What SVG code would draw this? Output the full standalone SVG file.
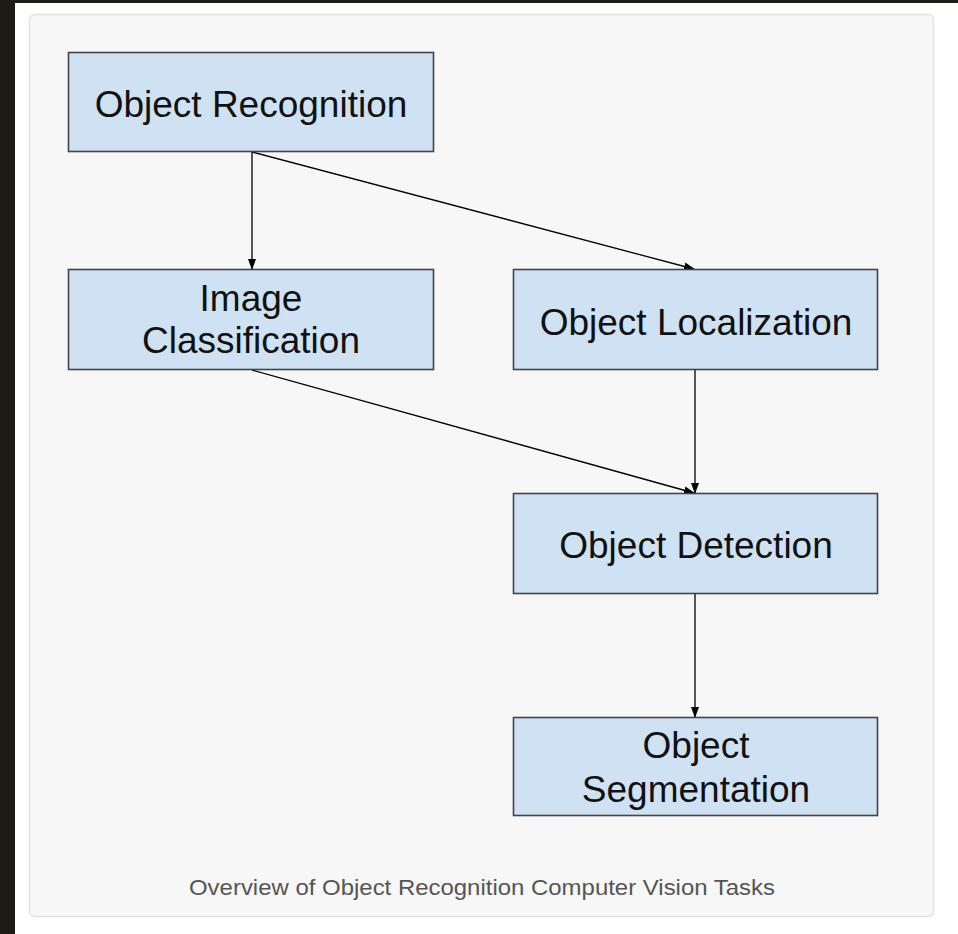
<svg xmlns="http://www.w3.org/2000/svg" width="958" height="934" viewBox="0 0 958 934">
<defs>
<marker id="ah" markerWidth="11" markerHeight="10" refX="10" refY="5" orient="auto" markerUnits="userSpaceOnUse">
<path d="M0,1 L11,5 L0,9 Z" fill="#000"/>
</marker>
<style>
.box{fill:#cfe2f3;stroke:#444;stroke-width:1.6}
.lbl{font-family:"Liberation Sans",Arial,sans-serif;font-size:37px;fill:#111;text-anchor:middle}
.edge{stroke:#000;stroke-width:1.3;fill:none;marker-end:url(#ah)}
.cap{font-family:"Liberation Sans",Arial,sans-serif;font-size:22px;fill:#555;text-anchor:middle}
</style>
</defs>
<rect x="0" y="0" width="958" height="934" fill="#fff"/>
<rect x="0" y="0" width="958" height="3" fill="#1c1b14"/>
<rect x="0" y="0" width="15" height="934" fill="#1c1b14"/>
<rect x="29.5" y="14.5" width="904" height="902" rx="5" fill="#f7f7f7" stroke="#e2e2e2" stroke-width="1.5"/>
<g id="connectors">
<line class="edge" x1="252" y1="152" x2="694" y2="269"/>
<line class="edge" x1="252" y1="152" x2="252" y2="269"/>
<line class="edge" x1="252" y1="370" x2="694" y2="493"/>
<line class="edge" x1="695" y1="370" x2="695" y2="493"/>
<line class="edge" x1="695" y1="594" x2="695" y2="717"/>
</g>
<g id="object-recognition">
<rect class="box" x="68.5" y="52.5" width="365" height="99"/>
<text class="lbl" x="251" y="117">Object Recognition</text>
</g>
<g id="image-classification">
<rect class="box" x="68.5" y="269.5" width="365" height="100"/>
<text class="lbl" x="251" y="311">Image</text>
<text class="lbl" x="251" y="353">Classification</text>
</g>
<g id="object-localization">
<rect class="box" x="513.5" y="269.5" width="364" height="100"/>
<text class="lbl" x="696" y="335">Object Localization</text>
</g>
<g id="object-detection">
<rect class="box" x="513.5" y="493.5" width="364" height="100"/>
<text class="lbl" x="696" y="558">Object Detection</text>
</g>
<g id="object-segmentation">
<rect class="box" x="513.5" y="717.5" width="364" height="98"/>
<text class="lbl" x="696" y="758">Object</text>
<text class="lbl" x="696" y="802">Segmentation</text>
</g>
<text class="cap" x="482" y="895" textLength="586" lengthAdjust="spacingAndGlyphs">Overview of Object Recognition Computer Vision Tasks</text>
</svg>
